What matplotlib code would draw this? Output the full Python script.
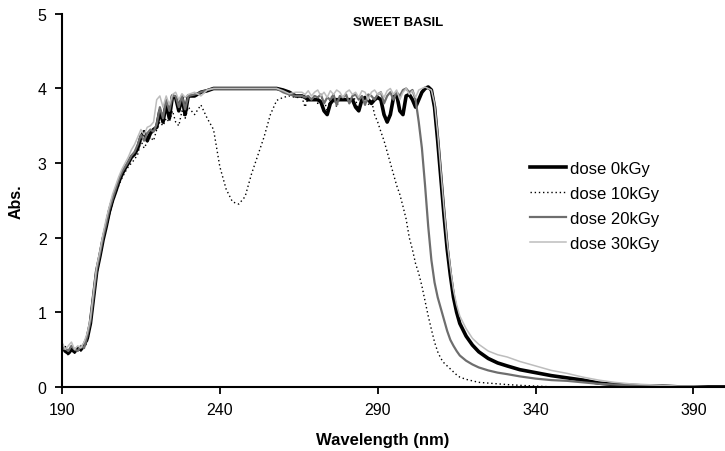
import matplotlib
matplotlib.use('Agg')
import matplotlib.pyplot as plt

plt.rcParams['font.family'] = ['Liberation Sans', 'DejaVu Sans']

wavelength = [
    190, 191, 192, 193, 194, 195, 196, 197, 198, 199, 200, 201, 202, 203, 204,
    205, 206, 207, 208, 209, 210, 211, 212, 213, 214, 215, 216, 217, 218, 219,
    220, 221, 222, 223, 224, 225, 226, 227, 228, 229, 230,
    232, 234, 236, 238, 240, 242, 244, 246, 248, 250, 252, 254, 256, 258, 260,
    262, 264,
    266, 267, 268, 269, 270, 271, 272, 273, 274, 275, 276, 277, 278, 279, 280,
    281, 282, 283, 284, 285, 286, 287, 288, 289, 290, 291, 292, 293, 294, 295,
    296, 297, 298, 299, 300, 301, 302, 303, 304, 305, 306, 307, 308, 309, 310,
    311, 312, 313, 314, 315, 316,
    318, 320, 322, 325, 328, 331, 335, 340, 345, 350, 355, 360, 365, 370, 375,
    380, 385, 390, 395, 400,
]

dose_0 = [
    0.55, 0.48, 0.45, 0.50, 0.47, 0.52, 0.50, 0.56, 0.65, 0.85, 1.20, 1.55, 1.75, 1.97, 2.15,
    2.35, 2.50, 2.62, 2.75, 2.85, 2.93, 3.00, 3.08, 3.12, 3.20, 3.35, 3.42, 3.30, 3.40, 3.45,
    3.48, 3.70, 3.55, 3.80, 3.60, 3.90, 3.88, 3.70, 3.88, 3.65, 3.90,
    3.90, 3.95, 3.97, 4.00, 4.00, 4.00, 4.00, 4.00, 4.00, 4.00, 4.00, 4.00, 4.00, 4.00, 3.98,
    3.95, 3.90,
    3.90, 3.88, 3.85, 3.85, 3.85, 3.85, 3.82, 3.70, 3.65, 3.80, 3.85, 3.85, 3.85, 3.85, 3.85,
    3.85, 3.85, 3.75, 3.70, 3.85, 3.88, 3.85, 3.80, 3.85, 3.88, 3.85, 3.65, 3.55, 3.65, 3.88,
    3.92, 3.70, 3.65, 3.90, 3.92, 3.85, 3.75, 3.85, 3.95, 4.00, 4.02, 3.98, 3.75, 3.30, 2.80,
    2.30, 1.85, 1.50, 1.20, 1.00, 0.85,
    0.68, 0.56, 0.47, 0.38, 0.32, 0.28, 0.23, 0.19, 0.15, 0.12, 0.09, 0.05, 0.03, 0.02, 0.01,
    0.01, 0.00, 0.00, 0.00, 0.00,
]

dose_10 = [
    0.45, 0.55, 0.42, 0.50, 0.45, 0.50, 0.48, 0.52, 0.60, 0.80, 1.15, 1.50, 1.72, 1.93, 2.10,
    2.30, 2.45, 2.60, 2.70, 2.80, 2.88, 2.95, 3.00, 3.05, 3.12, 3.30, 3.20, 3.28, 3.35, 3.30,
    3.45, 3.55, 3.50, 3.60, 3.55, 3.70, 3.55, 3.50, 3.70, 3.60, 3.75,
    3.65, 3.78, 3.60, 3.45, 2.95, 2.65, 2.48, 2.45, 2.55, 2.85, 3.10, 3.35, 3.65, 3.84, 3.88,
    3.90, 3.88,
    3.88, 3.75, 3.88, 3.85, 3.90, 3.80, 3.88, 3.85, 3.70, 3.88, 3.90, 3.75, 3.88, 3.85, 3.90,
    3.80, 3.88, 3.85, 3.70, 3.88, 3.85, 3.78, 3.85, 3.65, 3.55, 3.42, 3.30, 3.15, 3.00, 2.85,
    2.70, 2.58, 2.42, 2.25, 2.00, 1.84, 1.65, 1.52, 1.35, 1.15, 0.95, 0.77, 0.60, 0.47, 0.38,
    0.32, 0.28, 0.24, 0.20, 0.16, 0.13,
    0.10, 0.08, 0.06, 0.05, 0.04, 0.03, 0.02, 0.01, 0.00, 0.00, 0.00, 0.00, 0.00, 0.00, 0.00,
    0.00, 0.00, 0.00, 0.00, 0.00,
]

dose_20 = [
    0.50, 0.52, 0.48, 0.55, 0.50, 0.48, 0.55, 0.52, 0.68, 0.88, 1.22, 1.57, 1.78, 2.00, 2.18,
    2.38, 2.52, 2.65, 2.78, 2.88, 2.95, 3.02, 3.10, 3.15, 3.25, 3.38, 3.30, 3.40, 3.45, 3.42,
    3.52, 3.75, 3.60, 3.85, 3.70, 3.90, 3.90, 3.75, 3.90, 3.72, 3.90,
    3.92, 3.95, 3.98, 4.00, 4.00, 4.00, 4.00, 4.00, 4.00, 4.00, 4.00, 4.00, 4.00, 4.00, 3.95,
    3.92, 3.90,
    3.90, 3.88, 3.90, 3.85, 3.90, 3.88, 3.92, 3.80, 3.88, 3.85, 3.92, 3.78, 3.90, 3.88, 3.92,
    3.80, 3.90, 3.92, 3.85, 3.90, 3.78, 3.92, 3.90, 3.85, 3.92, 3.95, 3.80, 3.90, 3.95, 3.85,
    3.95, 3.90, 3.98, 4.00, 3.95, 3.98, 3.85, 3.55, 3.20, 2.70, 2.15, 1.70, 1.40, 1.20, 1.05,
    0.90, 0.75, 0.63, 0.55, 0.48, 0.42,
    0.35, 0.30, 0.26, 0.22, 0.19, 0.17, 0.14, 0.11, 0.09, 0.08, 0.06, 0.04, 0.03, 0.02, 0.01,
    0.01, 0.00, 0.00, 0.00, 0.00,
]

dose_30 = [
    0.60, 0.50, 0.55, 0.60, 0.50, 0.55, 0.52, 0.60, 0.72, 0.92, 1.28, 1.62, 1.82, 2.05, 2.25,
    2.42, 2.58, 2.70, 2.82, 2.92, 3.00, 3.08, 3.18, 3.25, 3.35, 3.45, 3.38, 3.48, 3.50, 3.55,
    3.85, 3.90, 3.75, 3.90, 3.78, 3.92, 3.95, 3.85, 3.93, 3.88, 3.92,
    3.95, 3.90, 3.98, 4.00, 4.00, 4.00, 4.00, 4.00, 4.00, 4.00, 4.00, 4.00, 4.00, 4.00, 3.97,
    3.93, 3.95,
    3.95, 3.92, 3.97, 3.90, 3.95, 3.98, 3.90, 3.95, 3.88, 3.97, 3.92, 3.98, 3.95, 3.88, 3.95,
    3.98, 3.92, 3.95, 3.88, 3.97, 3.95, 3.85, 3.95, 3.98, 3.92, 3.95, 3.88, 3.97, 4.00, 3.92,
    3.98, 3.85, 3.95, 4.00, 3.92, 3.97, 3.88, 3.98, 4.00, 4.02, 4.00, 3.98, 3.80, 3.40, 2.90,
    2.40, 1.95, 1.60, 1.30, 1.10, 0.95,
    0.78, 0.65, 0.57, 0.48, 0.43, 0.40, 0.34, 0.28, 0.22, 0.18, 0.13, 0.09, 0.06, 0.04, 0.03,
    0.02, 0.01, 0.01, 0.00, 0.00,
]

labels = ['dose 0kGy', 'dose 10kGy', 'dose 20kGy', 'dose 30kGy']

fig = plt.figure(figsize=(7.25, 4.52), dpi=100)
ax = fig.add_axes([0.0855, 0.142, 0.9145, 0.825])

ax.plot(wavelength, dose_0, color='black', lw=2.6, label=labels[0])
ax.plot(wavelength, dose_10, color='black', lw=1.0, linestyle=(0, (1, 2)), label=labels[1])
ax.plot(wavelength, dose_20, color='#6e6e6e', lw=1.6, label=labels[2])
ax.plot(wavelength, dose_30, color='#bdbdbd', lw=1.1, label=labels[3])

ax.set_xlim(190, 400)
ax.set_ylim(0, 5)
ax.set_xticks([190, 240, 290, 340, 390])
ax.set_yticks([0, 1, 2, 3, 4, 5])
ax.spines['top'].set_visible(False)
ax.spines['right'].set_visible(False)
ax.spines['left'].set_linewidth(1.5)
ax.spines['bottom'].set_linewidth(1.5)
ax.tick_params(direction='out', length=5, width=1.3, labelsize=11.5, pad=6)

ax.set_xlabel('Wavelength (nm)', fontsize=12, fontweight='bold', labelpad=11)
ax.xaxis.label.set_x(0.484)
ax.set_ylabel('Abs.', fontsize=11.5, fontweight='bold', labelpad=10)
ax.text(0.507, 0.978, 'SWEET BASIL', transform=ax.transAxes, ha='center', va='center',
        fontsize=9.5, fontweight='bold')

ax.legend(loc='upper left', bbox_to_anchor=(0.706, 0.606), frameon=False, fontsize=12,
          borderpad=0, borderaxespad=0, handlelength=2.15, handletextpad=0.25,
          labelspacing=0.6)

plt.savefig('out.png')
plt.close()
